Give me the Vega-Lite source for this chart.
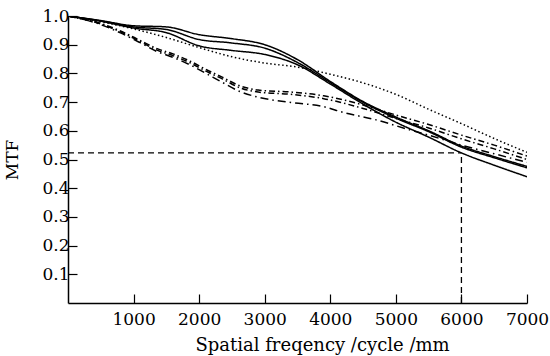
{
  "$schema": "https://vega.github.io/schema/vega-lite/v6.json",
  "width": 459,
  "height": 287,
  "autosize": {"type": "none"},
  "padding": {"left": 68, "top": 16, "right": 23, "bottom": 53},
  "background": "white",
  "config": {
    "view": {"stroke": null},
    "font": "DejaVu Serif",
    "axis": {"grid": false, "domainColor": "black", "tickColor": "black", "labelColor": "black", "titleColor": "black", "labelFont": "DejaVu Serif", "titleFont": "DejaVu Serif", "titleFontWeight": "normal", "domainWidth": 1.5, "tickWidth": 1.2}
  },
  "datasets": {
    "curves": [
      {"s": "A", "x": 0, "y": 1.0}, {"s": "A", "x": 500, "y": 0.984}, {"s": "A", "x": 1000, "y": 0.966}, {"s": "A", "x": 1500, "y": 0.962}, {"s": "A", "x": 2000, "y": 0.935}, {"s": "A", "x": 2500, "y": 0.921}, {"s": "A", "x": 3000, "y": 0.9}, {"s": "A", "x": 3500, "y": 0.848}, {"s": "A", "x": 4000, "y": 0.772}, {"s": "A", "x": 4500, "y": 0.702}, {"s": "A", "x": 5000, "y": 0.648}, {"s": "A", "x": 5500, "y": 0.6}, {"s": "A", "x": 6000, "y": 0.547}, {"s": "A", "x": 6500, "y": 0.51}, {"s": "A", "x": 7000, "y": 0.476},
      {"s": "B", "x": 0, "y": 1.0}, {"s": "B", "x": 500, "y": 0.983}, {"s": "B", "x": 1000, "y": 0.962}, {"s": "B", "x": 1500, "y": 0.953}, {"s": "B", "x": 2000, "y": 0.918}, {"s": "B", "x": 2500, "y": 0.906}, {"s": "B", "x": 3000, "y": 0.888}, {"s": "B", "x": 3500, "y": 0.838}, {"s": "B", "x": 4000, "y": 0.768}, {"s": "B", "x": 4500, "y": 0.699}, {"s": "B", "x": 5000, "y": 0.644}, {"s": "B", "x": 5500, "y": 0.597}, {"s": "B", "x": 6000, "y": 0.543}, {"s": "B", "x": 6500, "y": 0.506}, {"s": "B", "x": 7000, "y": 0.471},
      {"s": "C", "x": 0, "y": 1.0}, {"s": "C", "x": 500, "y": 0.982}, {"s": "C", "x": 1000, "y": 0.958}, {"s": "C", "x": 1500, "y": 0.942}, {"s": "C", "x": 2000, "y": 0.896}, {"s": "C", "x": 2500, "y": 0.88}, {"s": "C", "x": 3000, "y": 0.866}, {"s": "C", "x": 3500, "y": 0.83}, {"s": "C", "x": 4000, "y": 0.763}, {"s": "C", "x": 4500, "y": 0.693}, {"s": "C", "x": 5000, "y": 0.63}, {"s": "C", "x": 5500, "y": 0.578}, {"s": "C", "x": 6000, "y": 0.523}, {"s": "C", "x": 6500, "y": 0.48}, {"s": "C", "x": 7000, "y": 0.44},
      {"s": "Dot", "x": 0, "y": 1.0}, {"s": "Dot", "x": 500, "y": 0.98}, {"s": "Dot", "x": 1000, "y": 0.955}, {"s": "Dot", "x": 1500, "y": 0.925}, {"s": "Dot", "x": 2000, "y": 0.89}, {"s": "Dot", "x": 2500, "y": 0.858}, {"s": "Dot", "x": 3000, "y": 0.836}, {"s": "Dot", "x": 3500, "y": 0.822}, {"s": "Dot", "x": 4000, "y": 0.797}, {"s": "Dot", "x": 4500, "y": 0.767}, {"s": "Dot", "x": 5000, "y": 0.727}, {"s": "Dot", "x": 5500, "y": 0.675}, {"s": "Dot", "x": 6000, "y": 0.625}, {"s": "Dot", "x": 6500, "y": 0.573}, {"s": "Dot", "x": 7000, "y": 0.525},
      {"s": "D1", "x": 0, "y": 1.0}, {"s": "D1", "x": 500, "y": 0.974}, {"s": "D1", "x": 800, "y": 0.948}, {"s": "D1", "x": 1100, "y": 0.915}, {"s": "D1", "x": 1350, "y": 0.887}, {"s": "D1", "x": 1600, "y": 0.868}, {"s": "D1", "x": 1860, "y": 0.843}, {"s": "D1", "x": 2120, "y": 0.812}, {"s": "D1", "x": 2360, "y": 0.786}, {"s": "D1", "x": 2620, "y": 0.757}, {"s": "D1", "x": 2900, "y": 0.742}, {"s": "D1", "x": 3400, "y": 0.735}, {"s": "D1", "x": 3900, "y": 0.722}, {"s": "D1", "x": 4500, "y": 0.69}, {"s": "D1", "x": 5000, "y": 0.655}, {"s": "D1", "x": 5500, "y": 0.622}, {"s": "D1", "x": 6000, "y": 0.585}, {"s": "D1", "x": 6500, "y": 0.55}, {"s": "D1", "x": 7000, "y": 0.512},
      {"s": "D2", "x": 0, "y": 1.0}, {"s": "D2", "x": 500, "y": 0.972}, {"s": "D2", "x": 800, "y": 0.945}, {"s": "D2", "x": 1100, "y": 0.911}, {"s": "D2", "x": 1350, "y": 0.882}, {"s": "D2", "x": 1600, "y": 0.862}, {"s": "D2", "x": 1860, "y": 0.837}, {"s": "D2", "x": 2120, "y": 0.806}, {"s": "D2", "x": 2360, "y": 0.78}, {"s": "D2", "x": 2620, "y": 0.75}, {"s": "D2", "x": 2900, "y": 0.735}, {"s": "D2", "x": 3400, "y": 0.727}, {"s": "D2", "x": 3900, "y": 0.712}, {"s": "D2", "x": 4500, "y": 0.678}, {"s": "D2", "x": 5000, "y": 0.643}, {"s": "D2", "x": 5500, "y": 0.61}, {"s": "D2", "x": 6000, "y": 0.572}, {"s": "D2", "x": 6500, "y": 0.537}, {"s": "D2", "x": 7000, "y": 0.5},
      {"s": "D3", "x": 0, "y": 1.0}, {"s": "D3", "x": 500, "y": 0.97}, {"s": "D3", "x": 800, "y": 0.941}, {"s": "D3", "x": 1100, "y": 0.907}, {"s": "D3", "x": 1350, "y": 0.877}, {"s": "D3", "x": 1600, "y": 0.856}, {"s": "D3", "x": 1860, "y": 0.83}, {"s": "D3", "x": 2120, "y": 0.798}, {"s": "D3", "x": 2360, "y": 0.768}, {"s": "D3", "x": 2620, "y": 0.737}, {"s": "D3", "x": 2900, "y": 0.717}, {"s": "D3", "x": 3400, "y": 0.699}, {"s": "D3", "x": 3900, "y": 0.684}, {"s": "D3", "x": 4200, "y": 0.664}, {"s": "D3", "x": 4700, "y": 0.638}, {"s": "D3", "x": 5200, "y": 0.604}, {"s": "D3", "x": 5500, "y": 0.585}, {"s": "D3", "x": 6000, "y": 0.55}, {"s": "D3", "x": 6500, "y": 0.52}, {"s": "D3", "x": 7000, "y": 0.49}
    ],
    "hrule": [{"x": 0, "x2": 6000, "y": 0.523}],
    "vrule": [{"x": 6000, "y": 0, "y2": 0.523}]
  },
  "encoding": {
    "x": {"field": "x", "type": "quantitative", "scale": {"domain": [0, 7000], "nice": false},
      "axis": {"values": [1000, 2000, 3000, 4000, 5000, 6000, 7000], "format": "d", "tickSize": -9, "labelFontSize": 17, "labelPadding": 17, "labelOverlap": false, "labelBound": false, "labelFlush": false, "title": "Spatial freqency /cycle /mm", "titleFontSize": 18, "titlePadding": 9, "titleX": 254}},
    "y": {"field": "y", "type": "quantitative", "scale": {"domain": [0, 1], "nice": false},
      "axis": {"values": [0.1, 0.2, 0.3, 0.4, 0.5, 0.6, 0.7, 0.8, 0.9, 1.0], "format": ".1f", "tickSize": -9, "labelFontSize": 17, "labelPadding": 8, "labelOverlap": false, "labelBound": false, "labelFlush": false, "title": "MTF", "titleFontSize": 17, "titlePadding": 20}}
  },
  "layer": [
    {
      "data": {"name": "curves"},
      "mark": {"type": "line", "interpolate": "monotone", "color": "black", "clip": true},
      "encoding": {
        "detail": {"field": "s", "type": "nominal"},
        "strokeDash": {"field": "s", "type": "nominal", "legend": null,
          "scale": {"domain": ["A", "B", "C", "Dot", "D1", "D2", "D3"], "range": [[1, 0], [1, 0], [1, 0], [1.5, 2.5], [6, 3, 1.5, 3], [6, 3, 1.5, 3], [8, 4, 1.5, 4]]}},
        "strokeWidth": {"field": "s", "type": "nominal", "legend": null,
          "scale": {"domain": ["A", "B", "C", "Dot", "D1", "D2", "D3"], "range": [1.5, 1.5, 1.4, 1.5, 1.4, 1.4, 1.3]}}
      }
    },
    {
      "data": {"name": "hrule"},
      "mark": {"type": "rule", "color": "black", "strokeDash": [6, 4], "strokeWidth": 1.3},
      "encoding": {"x2": {"field": "x2"}}
    },
    {
      "data": {"name": "vrule"},
      "mark": {"type": "rule", "color": "black", "strokeDash": [6, 4], "strokeWidth": 1.3},
      "encoding": {"y2": {"field": "y2"}}
    }
  ]
}
